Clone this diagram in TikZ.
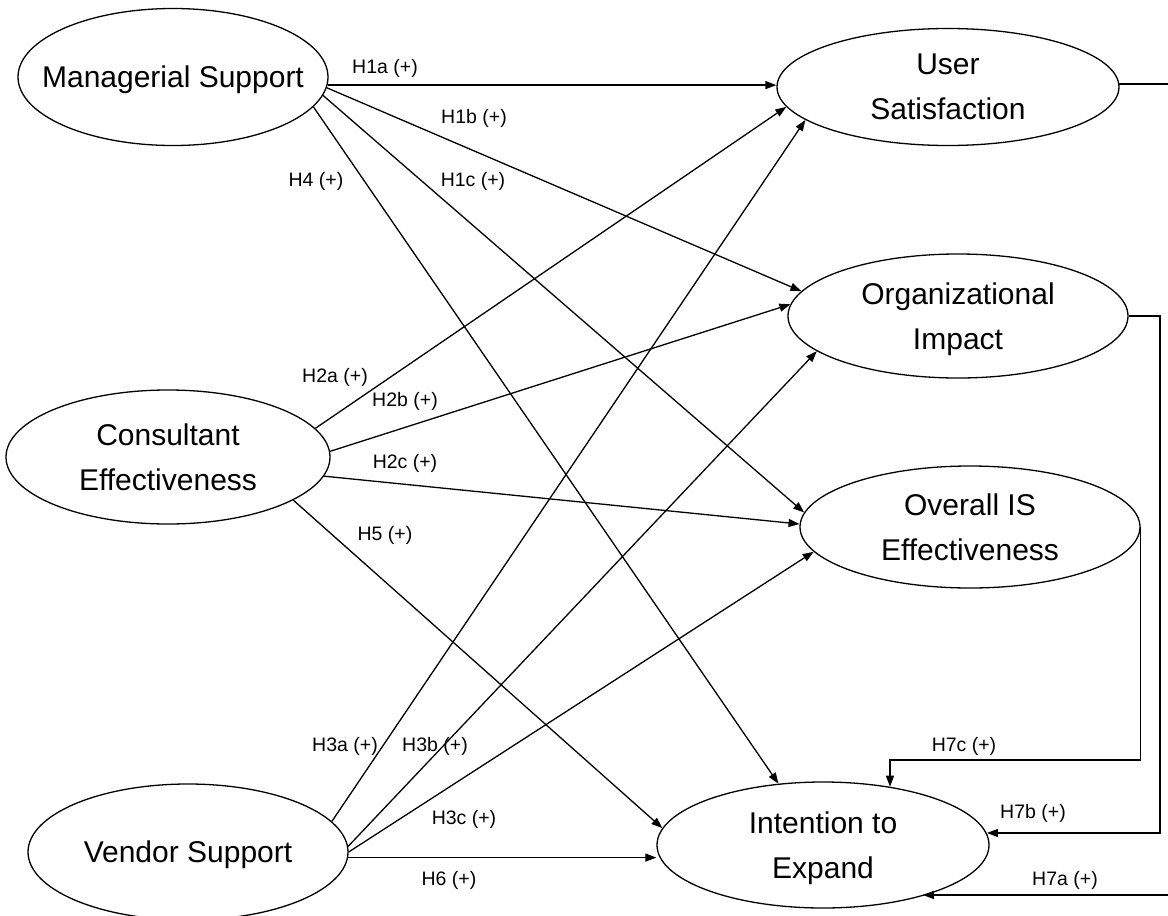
\documentclass[tikz,border=0pt]{standalone}
\usepackage{fontspec}
\setmainfont{Liberation Sans}
\usetikzlibrary{shapes.geometric,arrows.meta}
\begin{document}
\begin{tikzpicture}[x=1pt,y=-1pt,
  cons/.style 2 args={draw, ellipse, line width=1.3pt, inner sep=0pt, minimum width=#1, minimum height=#2},
  ctext/.style={align=center, font=\fontsize{30}{45}\selectfont, inner sep=0pt, text depth=0pt},
  hyp/.style={font=\fontsize{19.5}{22}\selectfont, inner sep=0pt},
  link/.style={line width=1.3pt, -{Triangle[length=11pt,width=8pt]}}
]
\useasboundingbox (0,0) rectangle (1168,916);

% constructs
\node[cons={310pt}{137pt}] (MS) at (173,77) {};
\node[ctext] (MSt) at (MS.center) {Managerial Support};
\node[cons={324pt}{134pt}] (CE) at (168,457) {};
\node[ctext] (CEt) at (CE.center) {Consultant\\Effectiveness};
\node[cons={320pt}{136pt}] (VS) at (188,852) {};
\node[ctext] (VSt) at (VS.center) {Vendor Support};
\node[cons={342pt}{117pt}] (US) at (948,87) {};
\node[ctext] (USt) at (US.center) {User\\Satisfaction};
\node[cons={340pt}{124pt}] (OI) at (958,316) {};
\node[ctext] (OIt) at (OI.center) {Organizational\\Impact};
\node[cons={340pt}{122pt}] (OIE) at (970,527) {};
\node[ctext] (OIEt) at (OIE.center) {Overall IS\\Effectiveness};
\node[cons={332pt}{126pt}] (IE) at (823,845) {};
\node[ctext] (IEt) at (IE.center) {Intention to\\Expand};

% connectors
\draw[link] (MS.-3) -- (MS.-3 -| US.west);
\draw[link] (MS.-4) -- (OI.171.5);
\draw[link] (MS.-7.7) -- (OIE.175);
\draw[link] (MS.-12.6) -- (IE.126);

\draw[link] (CE.11.8) -- (US.187.8);
\draw[link] (CE.2.5) -- (OI.176.3);
\draw[link] (CE.-7.4) -- (OIE.179.3);
\draw[link] (CE.-19) -- (IE.174.8);

\draw[link] (VS.12) -- (US.193);
\draw[link] (VS.2) -- (OI.194.7);
\draw[link] (VS.0) -- (OIE.189);
\draw[link] (VS.-2) -- (VS.-2 -| IE.west);

\coordinate (k7c) at (890,760);
\coordinate (k7b) at (1160,833);
\coordinate (k7a) at (1172,895);
\draw[link] (OIE.east) |- (k7c) -- (k7c |- IE.41);
\draw[link] (OI.east) -| (k7b) -- (k7b -| IE.4);
\draw[link] (US.1) -| (k7a) -- (k7a -| IE.-27);

% hypothesis labels
\node[hyp] (h1a) at (385,68) {H1a (+)};
\node[hyp] (h1b) at (474,118) {H1b (+)};
\node[hyp] (h1c) at (473,181) {H1c (+)};
\node[hyp] (h4) at (316,181) {H4 (+)};
\node[hyp] (h2a) at (335,377) {H2a (+)};
\node[hyp] (h2b) at (405,401) {H2b (+)};
\node[hyp] (h2c) at (405,463) {H2c (+)};
\node[hyp] (h5) at (385,535) {H5 (+)};
\node[hyp] (h3a) at (345,746) {H3a (+)};
\node[hyp] (h3b) at (435,746) {H3b (+)};
\node[hyp] (h3c) at (464,819) {H3c (+)};
\node[hyp] (h6) at (449,880) {H6 (+)};
\node[hyp] (h7c) at (964,746) {H7c (+)};
\node[hyp] (h7b) at (1033,813) {H7b (+)};
\node[hyp] (h7a) at (1065,880) {H7a (+)};
\end{tikzpicture}
\end{document}
